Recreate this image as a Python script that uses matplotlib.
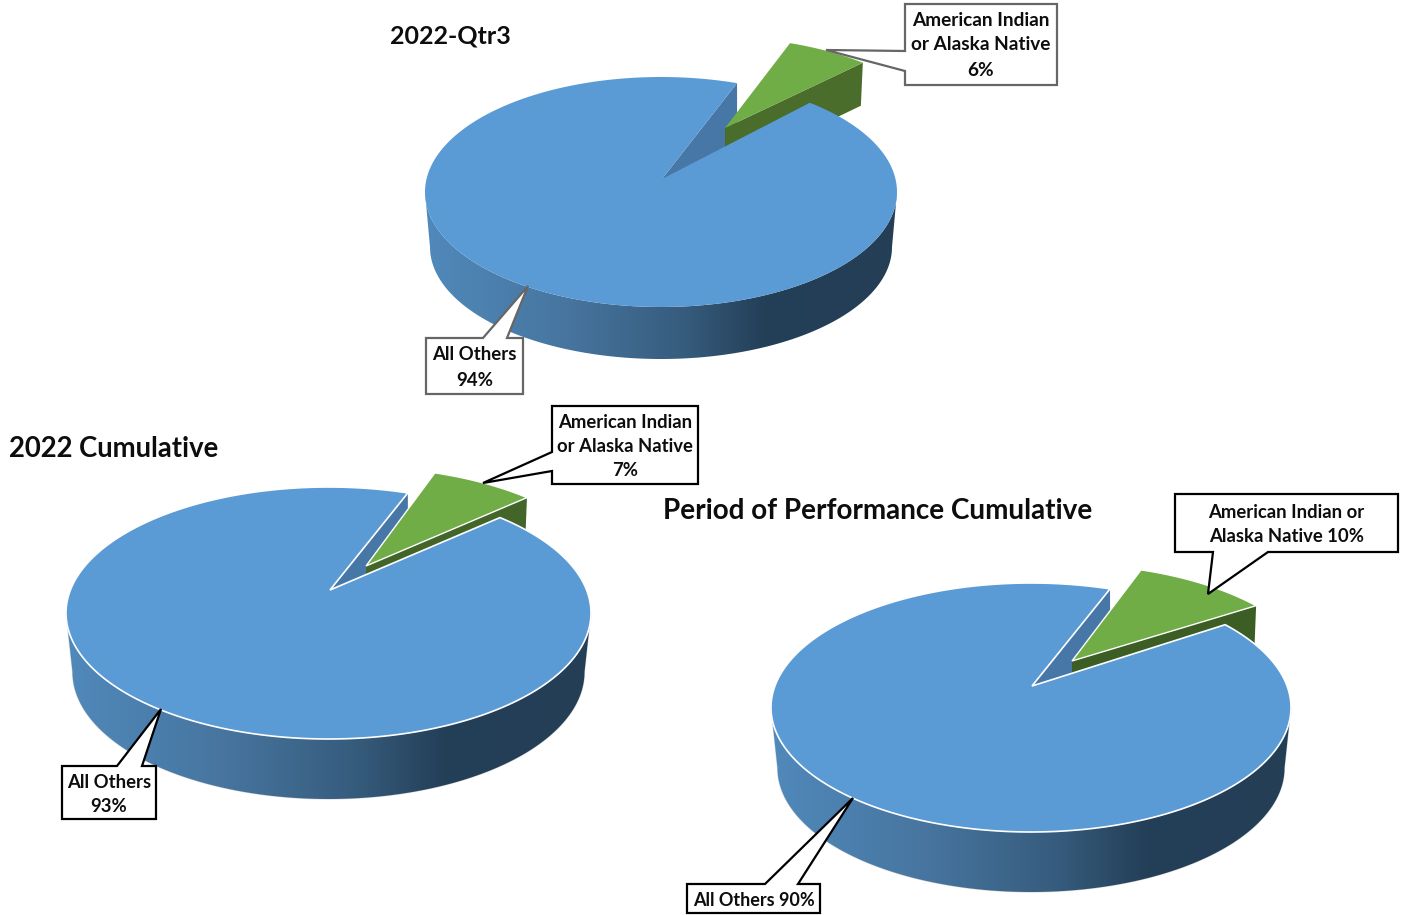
import numpy as np
import matplotlib
matplotlib.use("Agg")
import matplotlib.pyplot as plt
from matplotlib.colors import LinearSegmentedColormap
from matplotlib.patches import Polygon

plt.rcParams['font.family'] = ['Lato', 'DejaVu Sans']

# values
titles = ["2022-Qtr3", "2022 Cumulative", "Period of Performance Cumulative"]
native_share = [6, 7, 10]
others_share = [94, 93, 90]

# drawing geometry for each pie, in pixels of the 1408x915 picture
title_pos = [(390, 36), (9, 449), (663, 511)]
title_size = [18, 19.8, 20.1]
top_ell = [(661, 192, 236, 115), (328.5, 613, 262.5, 126), (1031, 707.5, 260, 124.5)]
bot_ell = [(661, 247, 231, 112), (328.5, 672, 256, 127), (1031, 768, 253.5, 124)]
apex = [(662, 179), (330, 590), (1032, 686)]
green_apex = [(725, 128), (366, 566), (1072, 661)]
arc_shift = [(53, -40), (27, -20), (31, -19)]
start_deg = [71.2, 72.4, 72.3]
span_scale = [0.94, 0.92, 0.85]  # perspective squeezes the slice a bit
green_depth = [43, 50, 50]
notch_depth = [60, 60, 60]
wall_green = ["#4a6d2b", "#43652a", "#3c5d24"]
edge = [None, "white", "white"]

BLUE = "#5b9bd5"
GREEN = "#70ad47"
NOTCH = "#4677a6"
side_cmap = LinearSegmentedColormap.from_list(
    "side", [(0, "#5089bb"), (0.3, "#47759f"), (0.55, "#365c7d"), (0.72, "#243f58"), (1, "#233e55")])


def arc(ell, t0, t1, n=200):
    cx, cy, rx, ry = ell
    t = np.radians(np.linspace(t0, t1, n))
    return np.column_stack([cx + rx*np.cos(t), cy - ry*np.sin(t)])


def draw_pie(ax, i):
    ell = top_ell[i]
    t_hi = start_deg[i]
    t_lo = t_hi - native_share[i] * 3.6 * span_scale[i]
    z = 2 + i*10

    # front wall with the dark gradient
    pts = np.vstack([arc(ell, 180, 360), arc(bot_ell[i], 360, 180)])
    side = Polygon(pts, closed=True, facecolor="none", edgecolor=edge[i] and "#d8d8d8" or "none",
                   lw=0.8, zorder=z)
    ax.add_patch(side)
    grad = np.linspace(0, 1, 256).reshape(1, -1)
    im = ax.imshow(grad, cmap=side_cmap, aspect="auto", zorder=z,
                   extent=[ell[0]-ell[2], ell[0]+ell[2], pts[:, 1].max(), pts[:, 1].min()])
    im.set_clip_path(side)

    # inner wall of the gap
    p = arc(ell, t_hi, t_hi, 1)[0]
    ax.add_patch(Polygon([apex[i], p, (p[0], p[1]+notch_depth[i]), (apex[i][0], apex[i][1]+notch_depth[i])],
                         facecolor=NOTCH, edgecolor="none", zorder=z+1))

    # pulled out slice
    g_arc = arc(ell, t_hi, t_lo, 40) + np.array(arc_shift[i])
    tip = g_arc[-1]
    d = green_depth[i]
    ax.add_patch(Polygon([green_apex[i], tip, (tip[0]-2, tip[1]+d), (green_apex[i][0], green_apex[i][1]+d)],
                         facecolor=wall_green[i], edgecolor="none", zorder=z+2))
    ax.add_patch(Polygon(np.vstack([[green_apex[i]], g_arc]), facecolor=GREEN,
                         edgecolor=edge[i] or "none", lw=1.0, zorder=z+3))

    # large slice on top
    ax.add_patch(Polygon(np.vstack([[apex[i]], arc(ell, t_hi, t_lo+360, 500)]), facecolor=BLUE,
                         edgecolor=edge[i] or "none", lw=1.2, zorder=z+4))


def callout(ax, box, base, tip, lines, ys, color, fs):
    x0, y0, x1, y1 = box
    b0, b1 = base
    # walk round the box and step out to the tip on the side the base is on
    if b0[1] == y0:
        pts = [(x0, y0), b0, tip, b1, (x1, y0), (x1, y1), (x0, y1)]
    elif b0[1] == y1:
        pts = [(x0, y0), (x1, y0), (x1, y1), b1, tip, b0, (x0, y1)]
    else:
        pts = [(x0, y0), (x1, y0), (x1, y1), (x0, y1), b1, tip, b0]
    ax.add_patch(Polygon(pts, facecolor="white", edgecolor=color, lw=1.6, zorder=50, joinstyle="miter"))
    cx = (x0 + x1) / 2
    for line, y in zip(lines, ys):
        ax.text(cx, y, line, ha="center", va="center", fontsize=fs, fontweight="bold",
                color="#0d0d0d", zorder=51)


fig = plt.figure(figsize=(14.08, 9.15), dpi=100)
ax = fig.add_axes([0, 0, 1, 1])

for i in range(3):
    draw_pie(ax, i)
    ax.text(title_pos[i][0], title_pos[i][1], titles[i], ha="left", va="center",
            fontsize=title_size[i], fontweight="bold", color="#0d0d0d", zorder=60)

ax.set_xlim(0, 1408)
ax.set_ylim(915, 0)
ax.axis("off")

GREY = "#666666"
callout(ax, (905, 4, 1057, 85), ((905, 51), (905, 71)), (826, 50),
        ["American Indian", "or Alaska Native", f"{native_share[0]}%"], [21, 45, 70], GREY, 13.7)
callout(ax, (426, 338, 523, 394), ((483, 338), (507, 338)), (528, 286),
        ["All Others", f"{others_share[0]}%"], [355, 380], GREY, 13.4)
callout(ax, (552, 406, 698, 484), ((552, 452), (552, 471)), (483, 483),
        ["American Indian", "or Alaska Native", f"{native_share[1]}%"], [422, 446, 470], "black", 13.3)
callout(ax, (62, 766, 156, 819), ((117, 766), (142, 766)), (161, 709),
        ["All Others", f"{others_share[1]}%"], [782, 806], "black", 13.3)
callout(ax, (1175, 494, 1398, 552), ((1213, 552), (1268, 552)), (1208, 594),
        ["American Indian or", f"Alaska Native {native_share[2]}%"], [512, 536], "black", 13.3)
callout(ax, (687, 884, 820, 913), ((765, 884), (798, 884)), (853, 798),
        [f"All Others {others_share[2]}%"], [900], "black", 13)

fig.savefig("out.png", dpi=100)
